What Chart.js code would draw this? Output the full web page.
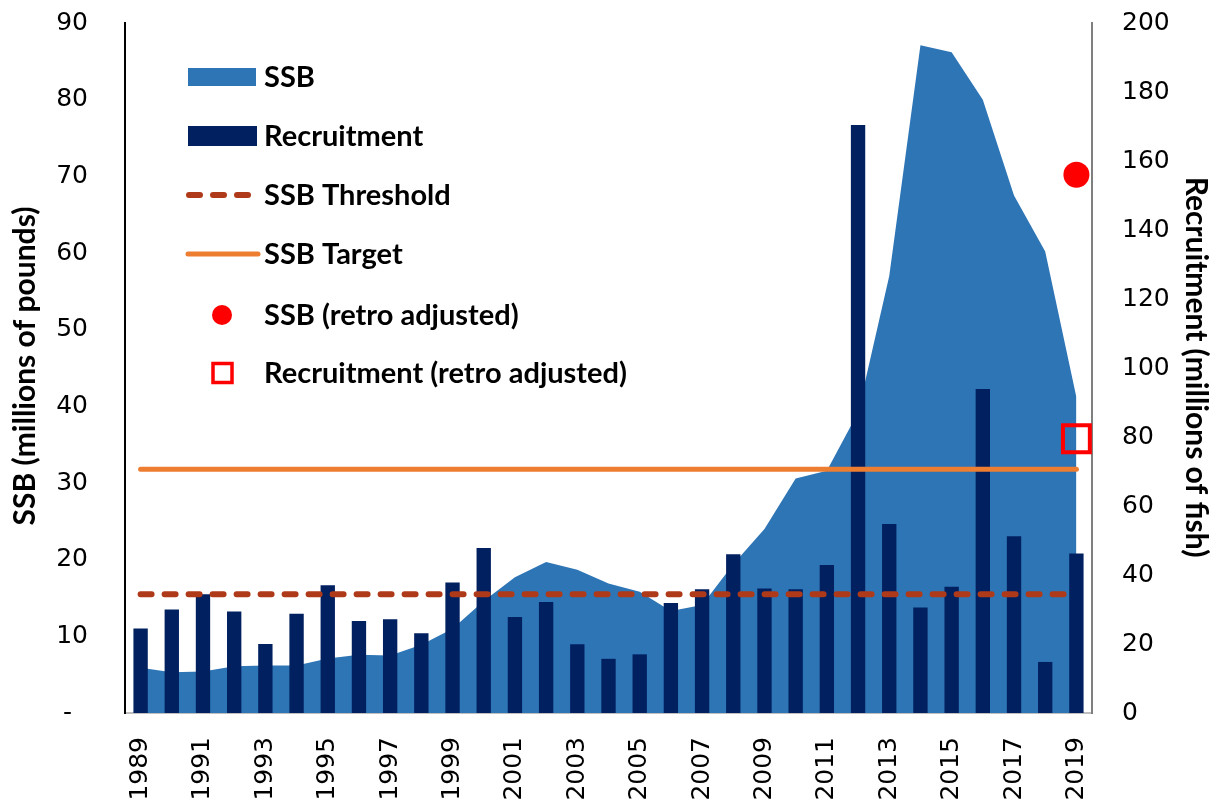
<!DOCTYPE html>
<html>
<head>
<meta charset="utf-8">
<script src="https://cdn.jsdelivr.net/npm/chart.js@4.4.1/dist/chart.umd.min.js"></script>
<style>
  html, body { margin: 0; padding: 0; background: #ffffff; }
  #wrap { width: 1218px; height: 802px; }
</style>
</head>
<body>
<div id="wrap"><canvas id="c" width="1218" height="802"></canvas></div>
<script>
const years = ['1989','1990','1991','1992','1993','1994','1995','1996','1997','1998','1999','2000','2001','2002','2003','2004','2005','2006','2007','2008','2009','2010','2011','2012','2013','2014','2015','2016','2017','2018','2019'];
const ssb = [5.9,5.3,5.4,6.1,6.2,6.2,7.1,7.6,7.5,8.9,11.0,14.6,17.7,19.7,18.7,16.9,15.8,13.3,14.1,19.4,24.0,30.6,31.6,39.2,57.0,87.1,86.2,80.0,67.5,60.2,41.2];
const recruitment = [24.5,30.0,34.4,29.4,20.0,28.8,37.0,26.7,27.2,23.1,37.8,47.8,27.8,32.2,19.9,15.7,17.0,31.9,35.9,46.0,36.1,35.9,42.9,170.4,54.8,30.6,36.6,93.9,51.2,14.8,46.2];
const ssbThreshold = 15.5;
const ssbTarget = 31.8;
const ssbRetro = 70.2;
const recruitmentRetro = 79.5;
const leftTicks = [0,10,20,30,40,50,60,70,80,90];
const rightTicks = [0,20,40,60,80,100,120,140,160,180,200];

const firstYear = years[0];
const lastYear = years[years.length - 1];

const C_SSB = '#2E75B6';
const C_REC = '#002060';
const C_THR = '#AE3A1A';
const C_TGT = '#ED7D31';
const C_RED = '#FF0000';

const legendItems = [
  { label: 'SSB', type: 'area' },
  { label: 'Recruitment', type: 'bar' },
  { label: 'SSB Threshold', type: 'dash' },
  { label: 'SSB Target', type: 'line' },
  { label: 'SSB (retro adjusted)', type: 'dot' },
  { label: 'Recruitment (retro adjusted)', type: 'square' }
];

const overlayPlugin = {
  id: 'overlay',
  afterDraw(chart) {
    const ctx = chart.ctx;
    ctx.save();
    const baselines = [87, 146, 205, 264, 325, 383];
    legendItems.forEach((it, i) => {
      const b = baselines[i];
      const cy = b - 10;
      if (it.type === 'area') {
        ctx.fillStyle = C_SSB;
        ctx.fillRect(188, cy - 9, 68, 18);
      } else if (it.type === 'bar') {
        ctx.fillStyle = C_REC;
        ctx.fillRect(188, cy - 10, 69, 20);
      } else if (it.type === 'dash') {
        ctx.strokeStyle = C_THR;
        ctx.lineWidth = 6;
        ctx.lineCap = 'round';
        ctx.setLineDash([11, 13]);
        ctx.beginPath();
        ctx.moveTo(189, cy);
        ctx.lineTo(253, cy);
        ctx.stroke();
        ctx.setLineDash([]);
      } else if (it.type === 'line') {
        ctx.strokeStyle = C_TGT;
        ctx.lineWidth = 5;
        ctx.lineCap = 'round';
        ctx.beginPath();
        ctx.moveTo(188, cy);
        ctx.lineTo(258, cy);
        ctx.stroke();
      } else if (it.type === 'dot') {
        ctx.fillStyle = C_RED;
        ctx.beginPath();
        ctx.arc(222, cy, 10, 0, Math.PI * 2);
        ctx.fill();
      } else if (it.type === 'square') {
        ctx.strokeStyle = C_RED;
        ctx.lineWidth = 3.5;
        ctx.strokeRect(213, cy - 9.5, 19, 19);
      }
      ctx.fillStyle = '#000000';
      ctx.font = 'bold 29px Lato';
      ctx.textAlign = 'left';
      ctx.textBaseline = 'alphabetic';
      ctx.fillText(it.label, 264, b);
    });
    ctx.font = 'bold 30px Lato';
    ctx.fillStyle = '#000000';
    ctx.textAlign = 'center';
    ctx.textBaseline = 'middle';
    ctx.save();
    ctx.translate(25, 366);
    ctx.rotate(-Math.PI / 2);
    ctx.fillText('SSB (millions of pounds)', 0, 0);
    ctx.restore();
    ctx.save();
    ctx.translate(1196, 367);
    ctx.rotate(Math.PI / 2);
    ctx.fillText('Recruitment (millions of fish)', 0, 0);
    ctx.restore();
    ctx.restore();
  }
};

const tickFont = { family: 'DejaVu Sans', size: 25 };

new Chart(document.getElementById('c'), {
  data: {
    labels: years,
    datasets: [
      {
        type: 'line',
        label: 'SSB (retro adjusted)',
        data: [{ x: lastYear, y: ssbRetro }],
        yAxisID: 'y',
        showLine: false,
        pointRadius: 13,
        pointHoverRadius: 13,
        pointBackgroundColor: C_RED,
        pointBorderWidth: 0,
        order: 0
      },
      {
        type: 'line',
        label: 'Recruitment (retro adjusted)',
        data: [{ x: lastYear, y: recruitmentRetro }],
        yAxisID: 'y1',
        showLine: false,
        pointStyle: 'rect',
        pointRadius: 19,
        pointHoverRadius: 19,
        pointBackgroundColor: 'rgba(0,0,0,0)',
        pointBorderColor: C_RED,
        pointBorderWidth: 4,
        order: 0
      },
      {
        type: 'line',
        label: 'SSB Target',
        data: [{ x: firstYear, y: ssbTarget }, { x: lastYear, y: ssbTarget }],
        yAxisID: 'y',
        borderColor: C_TGT,
        borderWidth: 5,
        borderCapStyle: 'round',
        pointRadius: 0,
        fill: false,
        order: 1
      },
      {
        type: 'line',
        label: 'SSB Threshold',
        data: [{ x: firstYear, y: ssbThreshold }, { x: lastYear, y: ssbThreshold }],
        yAxisID: 'y',
        borderColor: C_THR,
        borderWidth: 6,
        borderDash: [11, 13],
        borderCapStyle: 'round',
        pointRadius: 0,
        fill: false,
        order: 1
      },
      {
        type: 'bar',
        label: 'Recruitment',
        data: recruitment,
        yAxisID: 'y1',
        backgroundColor: C_REC,
        borderWidth: 0,
        barPercentage: 0.46,
        categoryPercentage: 1.0,
        order: 2
      },
      {
        type: 'line',
        label: 'SSB',
        data: ssb,
        yAxisID: 'y',
        borderWidth: 0,
        borderColor: C_SSB,
        backgroundColor: C_SSB,
        fill: 'origin',
        pointRadius: 0,
        tension: 0,
        order: 3
      }
    ]
  },
  options: {
    responsive: false,
    animation: false,
    events: [],
    layout: { padding: { top: 18, left: 0, right: 0, bottom: 0 } },
    plugins: {
      legend: { display: false },
      tooltip: { enabled: false },
      title: { display: false }
    },
    scales: {
      x: {
        type: 'category',
        offset: true,
        grid: { display: false, drawTicks: false },
        border: { display: true, color: '#BFBFBF', width: 2 },
        ticks: {
          autoSkip: false,
          minRotation: 90,
          maxRotation: 90,
          padding: 24,
          color: '#000000',
          font: tickFont,
          callback: function (val, idx) { return idx % 2 === 0 ? years[idx] : ''; }
        },
        afterFit: function (s) { s.height = 89; s.paddingLeft = 0; s.paddingRight = 0; }
      },
      y: {
        position: 'left',
        min: 0,
        max: 90,
        afterBuildTicks: function (s) { s.ticks = leftTicks.map(v => ({ value: v })); },
        grid: { display: false, drawTicks: false },
        border: { display: true, color: '#000000', width: 2 },
        ticks: {
          padding: 37,
          color: '#000000',
          font: tickFont,
          callback: function (v) { return v === 0 ? '-  ' : String(v); }
        },
        afterFit: function (s) { s.width = 125; s.paddingTop = 0; s.paddingBottom = 0; }
      },
      y1: {
        position: 'right',
        min: 0,
        max: 200,
        afterBuildTicks: function (s) { s.ticks = rightTicks.map(v => ({ value: v })); },
        grid: { display: false, drawOnChartArea: false, drawTicks: false },
        border: { display: true, color: '#7F7F7F', width: 2 },
        ticks: {
          padding: 30,
          color: '#000000',
          font: tickFont,
          callback: function (v) { return String(v); }
        },
        afterFit: function (s) { s.width = 126; s.paddingTop = 0; s.paddingBottom = 0; }
      }
    }
  },
  plugins: [overlayPlugin]
});
</script>
</body>
</html>
